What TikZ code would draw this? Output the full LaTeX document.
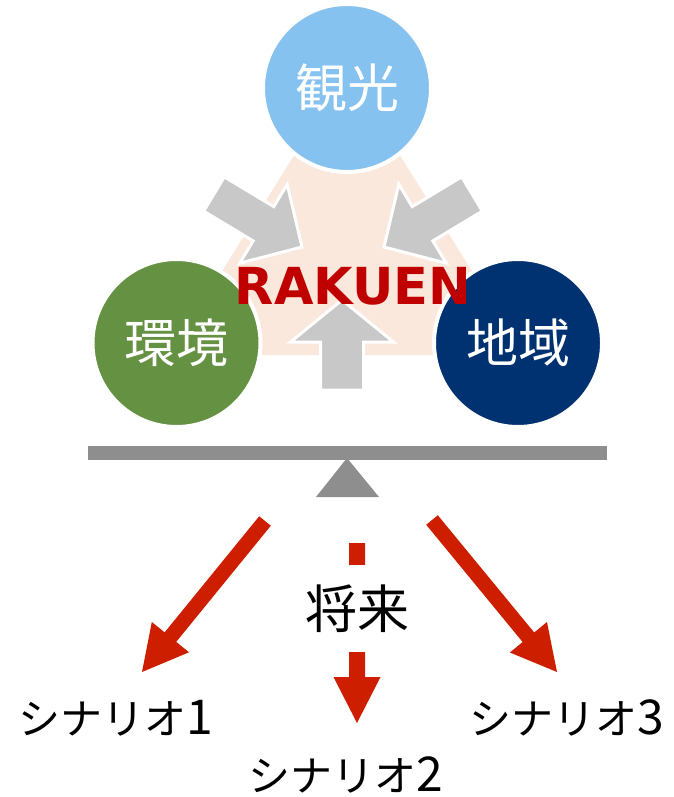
\documentclass[tikz,border=0pt]{standalone}
\usepackage{fontspec}
\newfontfamily\jp{Noto Sans CJK JP}
\newfontfamily\rak{DejaVu Sans}
\usetikzlibrary{calc}
\definecolor{kblue}{RGB}{134,194,240}
\definecolor{kgreen}{RGB}{101,145,66}
\definecolor{knavy}{RGB}{0,49,112}
\definecolor{kpink}{RGB}{251,232,221}
\definecolor{kgrey}{RGB}{200,200,200}
\definecolor{kbar}{RGB}{142,142,142}
\definecolor{kred}{RGB}{205,30,0}
\definecolor{ktext}{RGB}{192,0,0}
\newcommand\fatarrow[6]{%
  \coordinate (fa-h) at ($(#2)!#5!(#1)$);
  \path[#6] ($(#1)!#3!90:(#2)$) -- ($(fa-h)!#3!90:(#2)$) -- ($(fa-h)!#4!90:(#2)$) -- (#2)
    -- ($(fa-h)!#4!-90:(#2)$) -- ($(fa-h)!#3!-90:(#2)$) -- ($(#1)!#3!-90:(#2)$) -- cycle;}
\newcommand\bigdigit[1]{{\fontsize{48}{48}\selectfont #1}}
\tikzset{
  topic/.style={circle, inner sep=0pt, minimum size=168pt, draw=white, line width=4pt,
    text=white, font=\jp\fontsize{52}{52}\selectfont},
  greyarrow/.style={fill=kgrey, draw=white, line width=3pt, line join=miter},
  redarrow/.style={fill=kred},
  scen/.style={inner sep=0pt, font=\jp\fontsize{42}{42}\selectfont},
}
\begin{document}
\begin{tikzpicture}[x=1pt, y=-1pt]
\useasboundingbox (0,0) rectangle (673,797);
% background triangle
\fill[kpink] (347,70) -- (170,355) -- (524,355) -- cycle;
% grey arrows
\coordinate (gl-t) at (214,194); \coordinate (gl-p) at (302,247);
\coordinate (gr-t) at (472,194); \coordinate (gr-p) at (384,247);
\coordinate (gu-t) at (342,390); \coordinate (gu-p) at (342,300);
\fatarrow{gl-t}{gl-p}{20pt}{46pt}{45pt}{greyarrow}
\fatarrow{gr-t}{gr-p}{20pt}{46pt}{45pt}{greyarrow}
\fatarrow{gu-t}{gu-p}{21.5pt}{51.5pt}{42pt}{greyarrow}
% circles
\node[topic, fill=kblue] (kanko) at (347,88) {観光};
\node[topic, fill=kgreen] (kankyo) at (176.5,343) {環境};
\node[topic, fill=knavy] (chiiki) at (518,343) {地域};
% title
\node[inner sep=0pt, text=ktext, font=\rak\bfseries\fontsize{51}{51}\selectfont] (rakuen) at (353,286) {RAKUEN};
% seesaw
\fill[kbar] (88,446) rectangle (607,460);
\fill[kbar] (347,458) -- (316,497) -- (379,497) -- cycle;
% red arrows
\coordinate (rl-t) at (265,521); \coordinate (rl-p) at (142,672);
\coordinate (rr-t) at (432,520); \coordinate (rr-p) at (557,672);
\coordinate (rm-t) at (357,543); \coordinate (rm-p) at (357,723);
\fatarrow{rl-t}{rl-p}{7.5pt}{24pt}{45pt}{redarrow}
\fatarrow{rr-t}{rr-p}{7.5pt}{24pt}{45pt}{redarrow}
\fatarrow{rm-t}{rm-p}{8pt}{23.5pt}{46pt}{redarrow}
\node[fill=white, inner sep=0pt, minimum height=87pt, minimum width=110pt, font=\jp\fontsize{52}{52}\selectfont] (future) at (357,608.5) {将来};
% scenario labels
\node[scen, anchor=base] (s1) at (116,734) {シナリオ\bigdigit{1}};
\node[scen, anchor=base] (s2) at (346,791) {シナリオ\bigdigit{2}};
\node[scen, anchor=base] (s3) at (566.5,734) {シナリオ\bigdigit{3}};
\end{tikzpicture}
\end{document}
